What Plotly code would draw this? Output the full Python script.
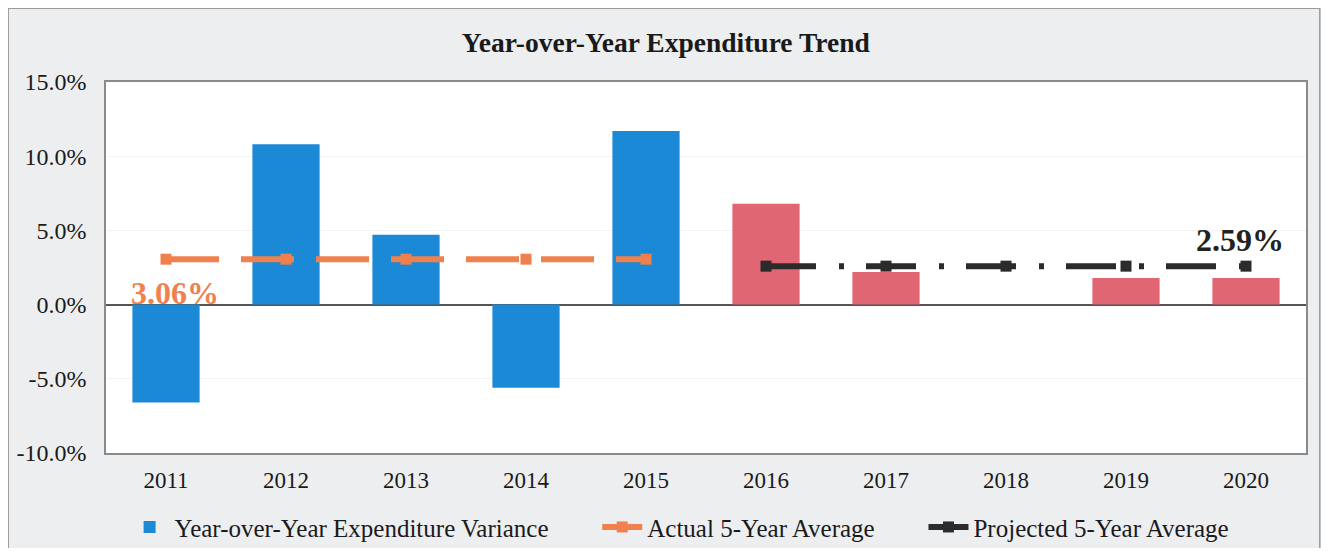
import plotly.graph_objects as go

years = ["2011", "2012", "2013", "2014", "2015", "2016", "2017", "2018", "2019", "2020"]
variance = [-6.6, 10.8, 4.7, -5.6, 11.7, 6.8, 2.2, 0.0, 1.8, 1.8]
bar_colors = ["#1b89d6"] * 5 + ["#e06673"] * 5
actual_years = ["2011", "2012", "2013", "2014", "2015"]
actual_avg = [3.06] * 5
proj_years = ["2016", "2017", "2018", "2019", "2020"]
proj_avg = [2.59] * 5
y_tickvals = [-10, -5, 0, 5, 10, 15]
y_ticktext = ["-10.0%", "-5.0%", "0.0%", "5.0%", "10.0%", "15.0%"]

FONT = "Liberation Serif"
PAD = "\u00a0" * 7

fig = go.Figure()
fig.add_trace(go.Bar(
    x=years, y=variance, name="Year-over-Year Expenditure Variance" + PAD,
    marker=dict(color=bar_colors, line=dict(width=0)), width=0.56,
))
fig.add_trace(go.Scatter(
    x=actual_years, y=actual_avg, name="Actual 5-Year Average" + PAD, mode="lines+markers",
    line=dict(color="#f0814e", width=6, dash="53px,22px"),
    marker=dict(symbol="square", size=11, color="#f0814e"),
))
fig.add_trace(go.Scatter(
    x=proj_years, y=proj_avg, name="Projected 5-Year Average", mode="lines+markers",
    line=dict(color="#2b2b2b", width=6, dash="50px,23px,5px,22px"),
    marker=dict(symbol="square", size=11, color="#2b2b2b"),
))

fig.add_annotation(x=years.index(actual_years[0]), y=actual_avg[0],
                   text="<b>%.2f%%</b>" % actual_avg[0],
                   showarrow=False, yshift=-34, xshift=9,
                   font=dict(family=FONT, size=32, color="#f0814e"))
fig.add_annotation(x=years.index(proj_years[-1]), y=proj_avg[-1],
                   text="<b>%.2f%%</b>" % proj_avg[-1],
                   showarrow=False, yshift=26, xshift=-6,
                   font=dict(family=FONT, size=32, color="#222222"))

# outer chart border
fig.add_shape(type="rect", xref="paper", yref="paper",
              x0=-0.0815, x1=1.0115, y0=-0.27, y1=1.199,
              line=dict(color="#9a9a9a", width=1.5), layer="below")

fig.update_layout(
    width=1313, height=540,
    margin=dict(l=98, r=15, t=74, b=95, autoexpand=False),
    paper_bgcolor="#eceef0", plot_bgcolor="#ffffff",
    title=dict(text="<b>Year-over-Year Expenditure Trend</b>", x=0.501, xanchor="center",
               y=0.937, yanchor="middle", font=dict(family=FONT, size=27.5, color="#1a1a1a")),
    font=dict(family=FONT, size=22, color="#1a1a1a"),
    showlegend=True,
    legend=dict(orientation="h", x=0.478, xanchor="center", y=-0.2, yanchor="middle",
                font=dict(family=FONT, size=25, color="#1a1a1a"), bgcolor="rgba(0,0,0,0)",
                itemwidth=40),
)
fig.update_xaxes(type="category", range=[-0.5, len(years) - 0.5],
                 showline=True, mirror=True, linecolor="#8a8a8a", linewidth=1.5,
                 ticks="", tickfont=dict(family=FONT, size=23), ticklabelstandoff=6,
                 showgrid=False, automargin=False)
fig.update_yaxes(range=[-10, 15], tickmode="array", tickvals=y_tickvals, ticktext=y_ticktext,
                 showline=True, mirror=True, linecolor="#8a8a8a", linewidth=1.5,
                 showgrid=True, gridcolor="#f3f3f3", zeroline=True, zerolinecolor="#555555",
                 zerolinewidth=1.5, ticks="", tickfont=dict(family=FONT, size=24),
                 ticklabelstandoff=13, automargin=False)

fig.write_html("out.html")
